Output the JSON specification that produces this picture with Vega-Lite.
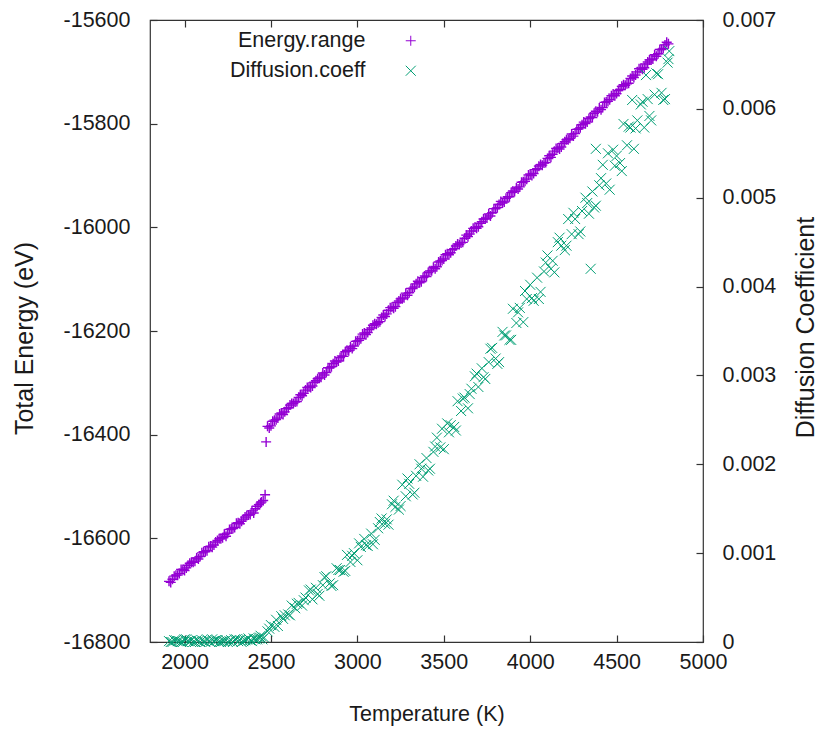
{
  "$schema": "https://vega.github.io/schema/vega-lite/v6.json",
  "autosize": {"type": "none"},
  "width": 553,
  "height": 622,
  "padding": {"left": 150, "top": 20, "right": 132, "bottom": 87},
  "background": "white",
  "config": {
    "view": {"stroke": "#333333", "strokeWidth": 1.2},
    "axis": {
      "grid": false,
      "domain": false,
      "tickColor": "#333333",
      "tickSize": -7,
      "tickWidth": 1.2,
      "labelColor": "#1a1a1a",
      "titleColor": "#1a1a1a",
      "labelFont": "Liberation Sans",
      "labelFontSize": 21.5,
      "titleFont": "Liberation Sans",
      "titleFontSize": 21.5,
      "titleFontWeight": "normal"
    },
    "legend": {
      "orient": "none",
      "legendX": 250,
      "legendY": 10,
      "padding": 0,
      "title": null,
      "labelAlign": "right",
      "labelOffset": -56,
      "labelFont": "Liberation Sans",
      "labelFontSize": 21.5,
      "labelColor": "#1a1a1a",
      "rowPadding": 7,
      "symbolSize": 100,
      "symbolStrokeWidth": 1
    }
  },
  "datasets": {
    "energy": [
      {"T": 1910, "E": -16683}, {"T": 1930, "E": -16679}, {"T": 1950, "E": -16671}, {"T": 1970, "E": -16668},
      {"T": 1990, "E": -16660}, {"T": 2010, "E": -16657}, {"T": 2030, "E": -16648}, {"T": 2050, "E": -16646},
      {"T": 2070, "E": -16638}, {"T": 2090, "E": -16635}, {"T": 2110, "E": -16626}, {"T": 2130, "E": -16624},
      {"T": 2150, "E": -16615}, {"T": 2170, "E": -16613}, {"T": 2190, "E": -16604}, {"T": 2210, "E": -16601},
      {"T": 2230, "E": -16592}, {"T": 2250, "E": -16590}, {"T": 2270, "E": -16582}, {"T": 2290, "E": -16579},
      {"T": 2310, "E": -16570}, {"T": 2330, "E": -16567}, {"T": 2350, "E": -16559}, {"T": 2370, "E": -16555},
      {"T": 2390, "E": -16547}, {"T": 2410, "E": -16543}, {"T": 2430, "E": -16535}, {"T": 2445, "E": -16530},
      {"T": 2455, "E": -16527}, {"T": 2466, "E": -16516}, {"T": 2472, "E": -16414},
      {"T": 1920, "E": -16685}, {"T": 1940, "E": -16673}, {"T": 1960, "E": -16671}, {"T": 1980, "E": -16660},
      {"T": 2000, "E": -16662}, {"T": 2020, "E": -16652}, {"T": 2040, "E": -16646}, {"T": 2060, "E": -16644},
      {"T": 2080, "E": -16640}, {"T": 2100, "E": -16628}, {"T": 2120, "E": -16626}, {"T": 2140, "E": -16616},
      {"T": 2160, "E": -16617}, {"T": 2180, "E": -16607}, {"T": 2200, "E": -16601}, {"T": 2220, "E": -16599},
      {"T": 2240, "E": -16596}, {"T": 2260, "E": -16583}, {"T": 2280, "E": -16581}, {"T": 2300, "E": -16571},
      {"T": 2320, "E": -16572}, {"T": 2340, "E": -16563}, {"T": 2360, "E": -16556}, {"T": 2380, "E": -16554},
      {"T": 2400, "E": -16551}, {"T": 2420, "E": -16538}, {"T": 2440, "E": -16532},
      {"T": 2480, "E": -16384}, {"T": 2500, "E": -16383}, {"T": 2520, "E": -16372}, {"T": 2540, "E": -16368},
      {"T": 2560, "E": -16358}, {"T": 2580, "E": -16356}, {"T": 2600, "E": -16348}, {"T": 2620, "E": -16340},
      {"T": 2640, "E": -16337}, {"T": 2660, "E": -16328}, {"T": 2680, "E": -16325}, {"T": 2700, "E": -16314},
      {"T": 2720, "E": -16308}, {"T": 2740, "E": -16306}, {"T": 2760, "E": -16296}, {"T": 2780, "E": -16291},
      {"T": 2800, "E": -16281}, {"T": 2820, "E": -16280}, {"T": 2840, "E": -16271}, {"T": 2860, "E": -16263},
      {"T": 2880, "E": -16260}, {"T": 2900, "E": -16251}, {"T": 2920, "E": -16249}, {"T": 2940, "E": -16237},
      {"T": 2960, "E": -16231}, {"T": 2980, "E": -16229}, {"T": 3000, "E": -16219}, {"T": 3020, "E": -16215},
      {"T": 3040, "E": -16204}, {"T": 3060, "E": -16203}, {"T": 3080, "E": -16194}, {"T": 3100, "E": -16186},
      {"T": 3120, "E": -16184}, {"T": 3140, "E": -16174}, {"T": 3160, "E": -16172}, {"T": 3180, "E": -16160},
      {"T": 3200, "E": -16154}, {"T": 3220, "E": -16153}, {"T": 3240, "E": -16142}, {"T": 3260, "E": -16138},
      {"T": 3280, "E": -16127}, {"T": 3300, "E": -16126}, {"T": 3320, "E": -16118}, {"T": 3340, "E": -16109},
      {"T": 3360, "E": -16107}, {"T": 3380, "E": -16097}, {"T": 3400, "E": -16095}, {"T": 3420, "E": -16084},
      {"T": 3440, "E": -16077}, {"T": 3460, "E": -16076}, {"T": 3480, "E": -16065}, {"T": 3500, "E": -16061},
      {"T": 3520, "E": -16051}, {"T": 3540, "E": -16049}, {"T": 3560, "E": -16041}, {"T": 3580, "E": -16032},
      {"T": 3600, "E": -16030}, {"T": 3620, "E": -16021}, {"T": 3640, "E": -16018}, {"T": 3660, "E": -16007},
      {"T": 3680, "E": -16000}, {"T": 3700, "E": -15999}, {"T": 3720, "E": -15989}, {"T": 3740, "E": -15984},
      {"T": 3760, "E": -15974}, {"T": 3780, "E": -15972}, {"T": 3800, "E": -15964}, {"T": 3820, "E": -15956},
      {"T": 3840, "E": -15953}, {"T": 3860, "E": -15944}, {"T": 3880, "E": -15941}, {"T": 3900, "E": -15930},
      {"T": 3920, "E": -15924}, {"T": 3940, "E": -15922}, {"T": 3960, "E": -15912}, {"T": 3980, "E": -15907},
      {"T": 4000, "E": -15897}, {"T": 4020, "E": -15896}, {"T": 4040, "E": -15887}, {"T": 4060, "E": -15879},
      {"T": 4080, "E": -15876}, {"T": 4100, "E": -15867}, {"T": 4120, "E": -15865}, {"T": 4140, "E": -15853},
      {"T": 4160, "E": -15847}, {"T": 4180, "E": -15845}, {"T": 4200, "E": -15835}, {"T": 4220, "E": -15831},
      {"T": 4240, "E": -15820}, {"T": 4260, "E": -15819}, {"T": 4280, "E": -15810}, {"T": 4300, "E": -15802},
      {"T": 4320, "E": -15800}, {"T": 4340, "E": -15790}, {"T": 4360, "E": -15788}, {"T": 4380, "E": -15776},
      {"T": 4400, "E": -15770}, {"T": 4420, "E": -15769}, {"T": 4440, "E": -15758}, {"T": 4460, "E": -15754},
      {"T": 4480, "E": -15743}, {"T": 4500, "E": -15742}, {"T": 4520, "E": -15734}, {"T": 4540, "E": -15725},
      {"T": 4560, "E": -15723}, {"T": 4580, "E": -15713}, {"T": 4600, "E": -15711}, {"T": 4620, "E": -15700},
      {"T": 4640, "E": -15693}, {"T": 4660, "E": -15692}, {"T": 4680, "E": -15681}, {"T": 4700, "E": -15677},
      {"T": 4720, "E": -15667}, {"T": 4740, "E": -15665}, {"T": 4760, "E": -15657}, {"T": 4780, "E": -15648},
      {"T": 4800, "E": -15646},
      {"T": 2490, "E": -16387}, {"T": 2510, "E": -16374}, {"T": 2530, "E": -16371}, {"T": 2550, "E": -16360},
      {"T": 2570, "E": -16361}, {"T": 2590, "E": -16350}, {"T": 2610, "E": -16343}, {"T": 2630, "E": -16340},
      {"T": 2650, "E": -16336}, {"T": 2670, "E": -16323}, {"T": 2690, "E": -16320}, {"T": 2710, "E": -16309},
      {"T": 2730, "E": -16309}, {"T": 2750, "E": -16299}, {"T": 2770, "E": -16292}, {"T": 2790, "E": -16289},
      {"T": 2810, "E": -16285}, {"T": 2830, "E": -16271}, {"T": 2850, "E": -16269}, {"T": 2870, "E": -16258},
      {"T": 2890, "E": -16258}, {"T": 2910, "E": -16248}, {"T": 2930, "E": -16240}, {"T": 2950, "E": -16238},
      {"T": 2970, "E": -16234}, {"T": 2990, "E": -16220}, {"T": 3010, "E": -16218}, {"T": 3030, "E": -16206},
      {"T": 3050, "E": -16207}, {"T": 3070, "E": -16197}, {"T": 3090, "E": -16189}, {"T": 3110, "E": -16187},
      {"T": 3130, "E": -16182}, {"T": 3150, "E": -16169}, {"T": 3170, "E": -16167}, {"T": 3190, "E": -16155},
      {"T": 3210, "E": -16156}, {"T": 3230, "E": -16145}, {"T": 3250, "E": -16138}, {"T": 3270, "E": -16136},
      {"T": 3290, "E": -16131}, {"T": 3310, "E": -16118}, {"T": 3330, "E": -16115}, {"T": 3350, "E": -16104},
      {"T": 3370, "E": -16105}, {"T": 3390, "E": -16094}, {"T": 3410, "E": -16087}, {"T": 3430, "E": -16084},
      {"T": 3450, "E": -16080}, {"T": 3470, "E": -16067}, {"T": 3490, "E": -16064}, {"T": 3510, "E": -16053},
      {"T": 3530, "E": -16053}, {"T": 3550, "E": -16043}, {"T": 3570, "E": -16036}, {"T": 3590, "E": -16033},
      {"T": 3610, "E": -16029}, {"T": 3630, "E": -16015}, {"T": 3650, "E": -16013}, {"T": 3670, "E": -16002},
      {"T": 3690, "E": -16002}, {"T": 3710, "E": -15992}, {"T": 3730, "E": -15984}, {"T": 3750, "E": -15982},
      {"T": 3770, "E": -15978}, {"T": 3790, "E": -15964}, {"T": 3810, "E": -15962}, {"T": 3830, "E": -15950},
      {"T": 3850, "E": -15951}, {"T": 3870, "E": -15941}, {"T": 3890, "E": -15933}, {"T": 3910, "E": -15931},
      {"T": 3930, "E": -15926}, {"T": 3950, "E": -15913}, {"T": 3970, "E": -15911}, {"T": 3990, "E": -15899},
      {"T": 4010, "E": -15900}, {"T": 4030, "E": -15889}, {"T": 4050, "E": -15882}, {"T": 4070, "E": -15880},
      {"T": 4090, "E": -15875}, {"T": 4110, "E": -15862}, {"T": 4130, "E": -15859}, {"T": 4150, "E": -15848},
      {"T": 4170, "E": -15849}, {"T": 4190, "E": -15838}, {"T": 4210, "E": -15831}, {"T": 4230, "E": -15828},
      {"T": 4250, "E": -15824}, {"T": 4270, "E": -15811}, {"T": 4290, "E": -15808}, {"T": 4310, "E": -15797},
      {"T": 4330, "E": -15797}, {"T": 4350, "E": -15787}, {"T": 4370, "E": -15780}, {"T": 4390, "E": -15777},
      {"T": 4410, "E": -15773}, {"T": 4430, "E": -15759}, {"T": 4450, "E": -15757}, {"T": 4470, "E": -15746},
      {"T": 4490, "E": -15746}, {"T": 4510, "E": -15736}, {"T": 4530, "E": -15728}, {"T": 4550, "E": -15726},
      {"T": 4570, "E": -15722}, {"T": 4590, "E": -15708}, {"T": 4610, "E": -15706}, {"T": 4630, "E": -15694},
      {"T": 4650, "E": -15695}, {"T": 4670, "E": -15685}, {"T": 4690, "E": -15677}, {"T": 4710, "E": -15675},
      {"T": 4730, "E": -15670}, {"T": 4750, "E": -15657}, {"T": 4770, "E": -15655}, {"T": 4790, "E": -15643}
    ],
    "diff": [
      {"T": 1910, "D": 0.00001}, {"T": 1930, "D": 0}, {"T": 1950, "D": 0.00002}, {"T": 1970, "D": 0.00001},
      {"T": 1990, "D": 0}, {"T": 2010, "D": 0.00003}, {"T": 2030, "D": 0.00001}, {"T": 2050, "D": 0},
      {"T": 2070, "D": 0.00002}, {"T": 2090, "D": 0}, {"T": 2110, "D": 0.00001}, {"T": 2130, "D": 0.00003},
      {"T": 2150, "D": 0}, {"T": 2170, "D": 0.00001}, {"T": 2190, "D": 0.00002}, {"T": 2210, "D": 0},
      {"T": 2230, "D": 0.00001}, {"T": 2250, "D": 0}, {"T": 2270, "D": 0.00002}, {"T": 2290, "D": 0.00003},
      {"T": 2310, "D": 0.00001}, {"T": 2330, "D": 0}, {"T": 2350, "D": 0.00002}, {"T": 2370, "D": 0.00004},
      {"T": 2390, "D": 0.00001}, {"T": 2410, "D": 0.00003}, {"T": 2430, "D": 0.00004},
      {"T": 1920, "D": 0}, {"T": 1940, "D": 0.00002}, {"T": 1960, "D": 0.00001}, {"T": 1980, "D": 0},
      {"T": 2000, "D": 0.00003}, {"T": 2020, "D": 0.00001}, {"T": 2040, "D": 0.00002}, {"T": 2060, "D": 0},
      {"T": 2080, "D": 0.00001}, {"T": 2100, "D": 0.00002}, {"T": 2120, "D": 0}, {"T": 2140, "D": 0.00001},
      {"T": 2160, "D": 0.00003}, {"T": 2180, "D": 0.00002}, {"T": 2200, "D": 0}, {"T": 2220, "D": 0.00001},
      {"T": 2240, "D": 0.00002}, {"T": 2260, "D": 0.00001}, {"T": 2280, "D": 0}, {"T": 2300, "D": 0.00003},
      {"T": 2320, "D": 0.00002}, {"T": 2340, "D": 0.00001}, {"T": 2360, "D": 0.00003}, {"T": 2380, "D": 0.00002},
      {"T": 2400, "D": 0.00004}, {"T": 2420, "D": 0.00003}, {"T": 2436, "D": 0.00005},
      {"T": 2440, "D": 0.00007}, {"T": 2460, "D": 0.00005}, {"T": 2480, "D": 0.00012}, {"T": 2500, "D": 0.00019},
      {"T": 2520, "D": 0.00017}, {"T": 2540, "D": 0.00018}, {"T": 2560, "D": 0.00029}, {"T": 2580, "D": 0.0003},
      {"T": 2600, "D": 0.00031}, {"T": 2620, "D": 0.00041}, {"T": 2640, "D": 0.00038}, {"T": 2660, "D": 0.00044},
      {"T": 2680, "D": 0.00041}, {"T": 2700, "D": 0.0005}, {"T": 2720, "D": 0.00058}, {"T": 2740, "D": 0.00048},
      {"T": 2760, "D": 0.00061}, {"T": 2780, "D": 0.00052}, {"T": 2800, "D": 0.00064}, {"T": 2820, "D": 0.00074},
      {"T": 2840, "D": 0.00066}, {"T": 2860, "D": 0.00064}, {"T": 2880, "D": 0.00083}, {"T": 2900, "D": 0.00081},
      {"T": 2920, "D": 0.00079}, {"T": 2940, "D": 0.00098}, {"T": 2960, "D": 0.0009}, {"T": 2980, "D": 0.001},
      {"T": 3000, "D": 0.00092}, {"T": 3020, "D": 0.00107}, {"T": 3040, "D": 0.00116}, {"T": 3060, "D": 0.00108},
      {"T": 3080, "D": 0.00122}, {"T": 3100, "D": 0.00115}, {"T": 3120, "D": 0.00128}, {"T": 3140, "D": 0.00139},
      {"T": 3160, "D": 0.00133}, {"T": 3180, "D": 0.00132}, {"T": 3200, "D": 0.00155}, {"T": 3220, "D": 0.00152},
      {"T": 3240, "D": 0.00149}, {"T": 3260, "D": 0.00177}, {"T": 3280, "D": 0.00164}, {"T": 3300, "D": 0.00178},
      {"T": 3320, "D": 0.00166}, {"T": 3340, "D": 0.00187}, {"T": 3360, "D": 0.002}, {"T": 3380, "D": 0.00186},
      {"T": 3400, "D": 0.00207}, {"T": 3420, "D": 0.00195}, {"T": 3440, "D": 0.00214}, {"T": 3460, "D": 0.0023},
      {"T": 3480, "D": 0.00219}, {"T": 3500, "D": 0.00217}, {"T": 3520, "D": 0.00246}, {"T": 3540, "D": 0.00244},
      {"T": 3560, "D": 0.00242}, {"T": 3580, "D": 0.00271}, {"T": 3600, "D": 0.0026}, {"T": 3620, "D": 0.00275},
      {"T": 3640, "D": 0.00263}, {"T": 3660, "D": 0.00285}, {"T": 3680, "D": 0.00299}, {"T": 3700, "D": 0.00287},
      {"T": 3720, "D": 0.00308}, {"T": 3740, "D": 0.00296}, {"T": 3760, "D": 0.00315}, {"T": 3780, "D": 0.00331},
      {"T": 3800, "D": 0.00319}, {"T": 3820, "D": 0.00315}, {"T": 3840, "D": 0.00349}, {"T": 3860, "D": 0.00345},
      {"T": 3880, "D": 0.0034}, {"T": 3900, "D": 0.00375}, {"T": 3920, "D": 0.00359}, {"T": 3940, "D": 0.00376},
      {"T": 3960, "D": 0.0036}, {"T": 3980, "D": 0.00386}, {"T": 4000, "D": 0.00402}, {"T": 4020, "D": 0.00384},
      {"T": 4040, "D": 0.0041}, {"T": 4060, "D": 0.00394}, {"T": 4080, "D": 0.00417}, {"T": 4100, "D": 0.00435},
      {"T": 4120, "D": 0.0042}, {"T": 4140, "D": 0.00416}, {"T": 4160, "D": 0.0045}, {"T": 4180, "D": 0.00446},
      {"T": 4200, "D": 0.00441}, {"T": 4220, "D": 0.00476}, {"T": 4240, "D": 0.00459}, {"T": 4260, "D": 0.00476},
      {"T": 4280, "D": 0.00459}, {"T": 4300, "D": 0.00485}, {"T": 4320, "D": 0.005}, {"T": 4340, "D": 0.00482},
      {"T": 4360, "D": 0.00507}, {"T": 4380, "D": 0.00491}, {"T": 4400, "D": 0.00514}, {"T": 4420, "D": 0.00537},
      {"T": 4440, "D": 0.00516}, {"T": 4460, "D": 0.00509}, {"T": 4480, "D": 0.00554}, {"T": 4500, "D": 0.00547},
      {"T": 4520, "D": 0.00539}, {"T": 4540, "D": 0.00583}, {"T": 4560, "D": 0.00559}, {"T": 4580, "D": 0.00579},
      {"T": 4600, "D": 0.00555}, {"T": 4620, "D": 0.00587}, {"T": 4640, "D": 0.00605}, {"T": 4660, "D": 0.00579},
      {"T": 4680, "D": 0.00611}, {"T": 4700, "D": 0.00587}, {"T": 4720, "D": 0.00616}, {"T": 4740, "D": 0.00639},
      {"T": 4760, "D": 0.00618}, {"T": 4780, "D": 0.00611}, {"T": 4800, "D": 0.00656},
      {"T": 2450, "D": 0.00003}, {"T": 2490, "D": 0.00015}, {"T": 2530, "D": 0.00025}, {"T": 2570, "D": 0.00026},
      {"T": 2610, "D": 0.0003}, {"T": 2650, "D": 0.00043}, {"T": 2690, "D": 0.00047}, {"T": 2730, "D": 0.00059},
      {"T": 2770, "D": 0.00054}, {"T": 2810, "D": 0.00073}, {"T": 2850, "D": 0.00063}, {"T": 2890, "D": 0.00081},
      {"T": 2930, "D": 0.0008}, {"T": 2970, "D": 0.00097}, {"T": 3010, "D": 0.00111}, {"T": 3050, "D": 0.00109},
      {"T": 3090, "D": 0.0011}, {"T": 3130, "D": 0.00135}, {"T": 3170, "D": 0.00138}, {"T": 3210, "D": 0.00159},
      {"T": 3250, "D": 0.00153}, {"T": 3290, "D": 0.00184}, {"T": 3330, "D": 0.00168}, {"T": 3370, "D": 0.00195},
      {"T": 3410, "D": 0.00193}, {"T": 3450, "D": 0.0022}, {"T": 3490, "D": 0.0024}, {"T": 3530, "D": 0.00236},
      {"T": 3570, "D": 0.00238}, {"T": 3610, "D": 0.00274}, {"T": 3650, "D": 0.00279}, {"T": 3690, "D": 0.00302},
      {"T": 3730, "D": 0.00298}, {"T": 3770, "D": 0.0033}, {"T": 3810, "D": 0.00313}, {"T": 3850, "D": 0.00345},
      {"T": 3890, "D": 0.0034}, {"T": 3930, "D": 0.00371}, {"T": 3970, "D": 0.00395}, {"T": 4010, "D": 0.00387},
      {"T": 4050, "D": 0.00386}, {"T": 4090, "D": 0.00427}, {"T": 4130, "D": 0.00429}, {"T": 4170, "D": 0.00455},
      {"T": 4210, "D": 0.00446}, {"T": 4250, "D": 0.00483}, {"T": 4290, "D": 0.00462}, {"T": 4330, "D": 0.00494},
      {"T": 4370, "D": 0.00489}, {"T": 4410, "D": 0.00522}, {"T": 4450, "D": 0.0055}, {"T": 4490, "D": 0.00536},
      {"T": 4530, "D": 0.0053}, {"T": 4570, "D": 0.0058}, {"T": 4610, "D": 0.00578}, {"T": 4650, "D": 0.00608},
      {"T": 4690, "D": 0.00592}, {"T": 4730, "D": 0.0064}, {"T": 4770, "D": 0.0061},
      {"T": 4380, "D": 0.00555}, {"T": 4350, "D": 0.0042}, {"T": 4805, "D": 0.00665}, {"T": 4795, "D": 0.00652},
      {"T": 4590, "D": 0.0061}, {"T": 4670, "D": 0.00638}
    ]
  },
  "layer": [
    {
      "data": {"name": "energy"},
      "mark": {"type": "point", "filled": false, "size": 100, "strokeWidth": 1.4, "opacity": 1},
      "encoding": {
        "x": {
          "field": "T", "type": "quantitative",
          "scale": {"domain": [1800, 5000], "nice": false, "zero": false},
          "axis": {"orient": "bottom", "values": [2000, 2500, 3000, 3500, 4000, 4500, 5000], "format": "d", "labelPadding": 16, "labelFlush": false, "title": "Temperature (K)", "titleY": 72, "titleBaseline": "middle"}
        },
        "y": {
          "field": "E", "type": "quantitative",
          "scale": {"domain": [-16800, -15600], "nice": false, "zero": false},
          "axis": {"orient": "left", "values": [-16800, -16600, -16400, -16200, -16000, -15800, -15600], "labelExpr": "replace(format(datum.value, 'd'), '\u2212', '-')", "labelPadding": 27, "labelFlush": false, "title": "Total Energy (eV)", "titleFontSize": 25, "titleAngle": -90, "titleX": -126, "titleY": 318, "titleBaseline": "middle"}
        },
        "color": {
          "datum": "Energy.range", "type": "nominal",
          "scale": {"domain": ["Energy.range", "Diffusion.coeff"], "range": ["#9400d3", "#009e73"]}
        },
        "shape": {
          "datum": "Energy.range", "type": "nominal",
          "scale": {"domain": ["Energy.range", "Diffusion.coeff"], "range": ["M-1,0L1,0M0,-1L0,1", "M-1,-1L1,1M-1,1L1,-1"]}
        }
      }
    },
    {
      "data": {"name": "diff"},
      "mark": {"type": "point", "filled": false, "size": 100, "strokeWidth": 1, "opacity": 1},
      "encoding": {
        "x": {
          "field": "T", "type": "quantitative",
          "axis": {"orient": "top", "values": [2000, 2500, 3000, 3500, 4000, 4500, 5000], "labels": false, "title": null}
        },
        "y": {
          "field": "D", "type": "quantitative",
          "scale": {"domain": [0, 0.007], "nice": false},
          "axis": {"orient": "right", "values": [0, 0.001, 0.002, 0.003, 0.004, 0.005, 0.006, 0.007], "labelExpr": "datum.value == 0 ? '0' : format(datum.value, '.3f')", "labelPadding": 26, "labelFlush": false, "title": "Diffusion Coefficient", "titleFontSize": 25, "titleAngle": -90, "titleX": 102, "titleY": 307, "titleBaseline": "middle"}
        },
        "color": {"datum": "Diffusion.coeff", "type": "nominal"},
        "shape": {"datum": "Diffusion.coeff", "type": "nominal"}
      }
    }
  ],
  "resolve": {"scale": {"y": "independent"}, "axis": {"x": "independent"}}
}
